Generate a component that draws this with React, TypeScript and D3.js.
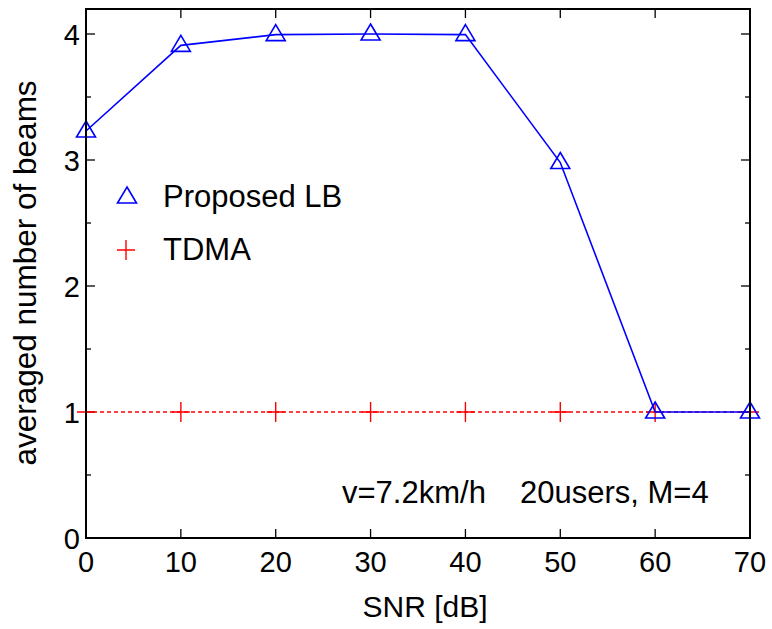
import React from "react";
import * as d3 from "d3";

const snr = [0, 10, 20, 30, 40, 50, 60, 70];
const proposedLB = [3.23, 3.91, 3.995, 4.0, 3.995, 2.98, 1.0, 1.0];
const tdma = [1, 1, 1, 1, 1, 1, 1, 1];
const xTicks = [0, 10, 20, 30, 40, 50, 60, 70];
const yTicks = [0, 1, 2, 3, 4];
const yMinor = [0.5, 1.5, 2.5, 3.5];

const W = 772, H = 629;
const L = 86, R = 750, T = 9, B = 538;

export default function App() {
  const x = d3.scaleLinear().domain([0, 70]).range([L, R]);
  const y = d3.scaleLinear().domain([0, 4]).range([B, B - 504]);
  const line = d3.line<number>().x((_, i) => x(snr[i])).y((d) => y(d));
  const font = "'Liberation Sans', Arial, Helvetica, sans-serif";
  const tri = (cx: number, cy: number) =>
    `M${cx},${cy - 10} L${cx + 9.5},${cy + 6} L${cx - 9.5},${cy + 6} Z`;
  const plus = (cx: number, cy: number, s = 9) =>
    `M${cx - s},${cy} H${cx + s} M${cx},${cy - s - 1} V${cy + s + 1}`;
  return (
    <svg width={W} height={H} style={{ position: "absolute", left: 0, top: 0, background: "#fff" }} fontFamily={font}>
      <rect x={0} y={0} width={W} height={H} fill="#fff" />
      {xTicks.map((t) => (
        <g key={"xt" + t}>
          <line x1={x(t)} x2={x(t)} y1={B} y2={B - 9} stroke="#000" strokeWidth={1.3} />
          <line x1={x(t)} x2={x(t)} y1={T} y2={T + 9} stroke="#000" strokeWidth={1.3} />
          <text x={x(t)} y={572} textAnchor="middle" fontSize={29}>{t}</text>
        </g>
      ))}
      {yTicks.map((t) => (
        <g key={"yt" + t}>
          <line x1={L} x2={L + 9} y1={y(t)} y2={y(t)} stroke="#000" strokeWidth={1.3} />
          <line x1={R} x2={R - 9} y1={y(t)} y2={y(t)} stroke="#000" strokeWidth={1.3} />
          <text x={80} y={y(t) + 10.5} textAnchor="end" fontSize={29}>{t}</text>
        </g>
      ))}
      {yMinor.map((t) => (
        <g key={"ym" + t}>
          <line x1={L} x2={L + 5} y1={y(t)} y2={y(t)} stroke="#000" strokeWidth={1.3} />
          <line x1={R} x2={R - 5} y1={y(t)} y2={y(t)} stroke="#000" strokeWidth={1.3} />
        </g>
      ))}
      <path d={line(tdma) || ""} fill="none" stroke="#ff0000" strokeWidth={1.3} strokeDasharray="4,3" />
      {tdma.map((v, i) => (
        <path key={"p" + i} d={plus(x(snr[i]), y(v))} stroke="#ff0000" strokeWidth={1.4} fill="none" />
      ))}
      <path d={line(proposedLB) || ""} fill="none" stroke="#0000ff" strokeWidth={1.6} />
      {proposedLB.map((v, i) => (
        <path key={"t" + i} d={tri(x(snr[i]), y(v))} stroke="#0000ff" strokeWidth={1.6} fill="none" />
      ))}
      <rect x={L} y={T} width={R - L} height={B - T} fill="none" stroke="#000" strokeWidth={2} />
      <path d={tri(127, 197)} stroke="#0000ff" strokeWidth={1.6} fill="none" />
      <text x={163} y={207} fontSize={31}>Proposed LB</text>
      <path d={plus(126, 250)} stroke="#ff0000" strokeWidth={1.4} fill="none" />
      <text x={163} y={260} fontSize={31}>TDMA</text>
      <text x={342} y={503} fontSize={31}>v=7.2km/h</text>
      <text x={520} y={503} fontSize={31}>20users, M=4</text>
      <text x={425} y={617} textAnchor="middle" fontSize={30}>SNR [dB]</text>
      <text transform={`translate(36,273) rotate(-90)`} textAnchor="middle" fontSize={31.5}>averaged number of beams</text>
    </svg>
  );
}
